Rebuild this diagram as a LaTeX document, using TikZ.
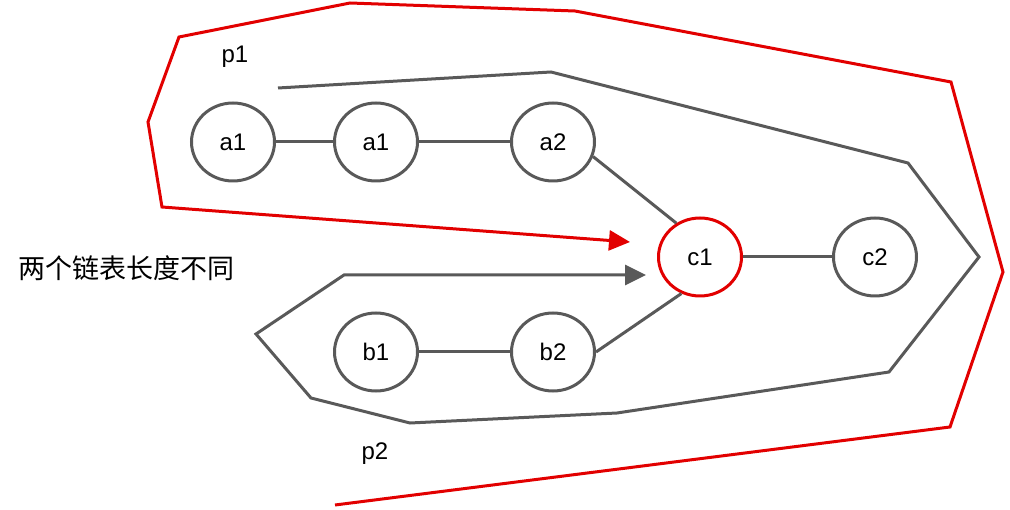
\documentclass[tikz,border=0pt]{standalone}
\usepackage{fontspec}
\setmainfont{Liberation Sans}
\newfontfamily\cjkfont{Noto Sans CJK SC}
\usetikzlibrary{arrows.meta,shapes.geometric}
\definecolor{linkgray}{RGB}{89,89,89}
\definecolor{walkred}{RGB}{226,0,0}
\tikzset{
	listnode/.style={ellipse, draw=linkgray, line width=3pt, minimum width=83pt, minimum height=78pt, inner sep=0pt, font=\fontsize{24}{28}\selectfont},
	link/.style={draw=linkgray, line width=3pt},
	walk/.style={line width=3pt, -{Triangle[length=21pt,width=20pt]}},
	tag/.style={font=\fontsize{24}{28}\selectfont}
}

\begin{document}
\begin{tikzpicture}[x=1pt, y=-1pt]
		%%%%% START %%%%%
		\useasboundingbox (0, 0) rectangle (1010, 510);
		
		\node[listnode] (a1) at (233, 142) {a1};
		\node[listnode] (a1b) at (376, 142) {a1};
		\node[listnode] (a2) at (553, 142) {a2};
		
		\node[listnode, draw=walkred] (c1) at (700, 257) {c1};
		\node[listnode] (c2) at (875, 257) {c2};
		
		\node[listnode] (b1) at (376, 352) {b1};
		\node[listnode] (b2) at (553, 352) {b2};
		
		\draw[link] (a1) -- (a1b);
		\draw[link] (a1b) -- (a2);
		\draw[link] (a2.-20) -- (c1.125);
		\draw[link] (b1) -- (b2);
		\draw[link] (b2.east) -- (c1.-117);
		\draw[link] (c1) -- (c2);
		
		\node[tag] (p1) at (235, 57) {p1};
		\node[tag] (p2) at (375, 454) {p2};
		\node[anchor=west, font=\cjkfont\fontsize{27}{30}\selectfont] (note) at (15, 268) {两个链表长度不同};
		
		\coordinate (p1start) at (278, 88);
		\coordinate (p1end) at (646, 275);
		\coordinate (p2start) at (335, 505);
		\coordinate (p2end) at (630, 242);
		
		\draw[walk, color=linkgray] (p1start) -- (551, 72) -- (908, 163) -- (979, 257) -- (889, 372) -- (617, 413) -- (410, 423) -- (311, 398) -- (256, 334) -- (344, 275) -- (p1end);
		\draw[walk, color=walkred] (p2start) -- (950, 427) -- (1003, 272) -- (951, 82) -- (575, 11) -- (350, 3) -- (179, 37) -- (148, 122) -- (162, 207) -- (p2end);
		
		%%%%% END %%%%%
	\end{tikzpicture}
\end{document}
